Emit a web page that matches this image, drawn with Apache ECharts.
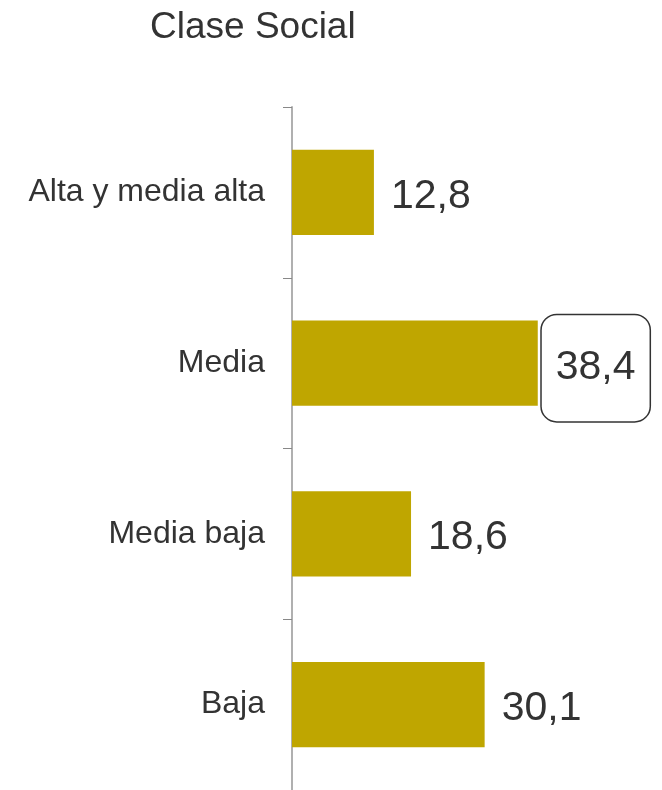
<!DOCTYPE html>
<html>
<head>
<meta charset="utf-8">
<script src="https://cdn.jsdelivr.net/npm/echarts@6/dist/echarts.min.js"></script>
<style>
  html, body { margin: 0; padding: 0; background: #fff; }
  #chart { width: 662px; height: 790px; }
</style>
</head>
<body>
<div id="chart"></div>
<script>
const categories = ["Alta y media alta", "Media", "Media baja", "Baja"];
const values = [12.8, 38.4, 18.6, 30.1];
const highlighted = "Media";

const chart = echarts.init(document.getElementById("chart"));

const labelFont = "Liberation Sans, Arial, sans-serif";

const option = {
  animation: false,
  title: {
    text: "Clase Social",
    left: 145,
    top: 4,
    textStyle: {
      fontFamily: labelFont,
      fontSize: 37,
      fontWeight: "normal",
      color: "#333333"
    }
  },
  grid: {
    left: 292,
    right: 50,
    top: 107,
    bottom: 0
  },
  xAxis: {
    type: "value",
    min: 0,
    max: 50,
    show: false
  },
  yAxis: {
    type: "category",
    inverse: true,
    data: categories,
    axisLine: { lineStyle: { color: "#b0b0b0", width: 2 } },
    axisTick: { show: true, length: 9, lineStyle: { color: "#888888", width: 1 } },
    axisLabel: {
      margin: 27,
      padding: [6, 0, 0, 0],
      fontFamily: labelFont,
      fontSize: 32,
      color: "#333333"
    }
  },
  series: [
    {
      type: "bar",
      barWidth: "50%",
      data: values.map(function (v, i) {
        const item = { value: v };
        if (categories[i] === highlighted) {
          item.label = {
            distance: 4,
            padding: [28, 14, 28, 14],
            lineHeight: 50,
            borderColor: "#333333",
            borderWidth: 1.5,
            borderRadius: 15,
            backgroundColor: "#ffffff",
            offset: [0, 5]
          };
        }
        return item;
      }),
      itemStyle: { color: "#bfa600" },
      label: {
        show: true,
        position: "right",
        distance: 17,
        offset: [0, 4],
        fontFamily: labelFont,
        fontSize: 41,
        color: "#333333",
        formatter: function (p) {
          return p.value.toFixed(1).replace(".", ",");
        }
      }
    }
  ]
};

chart.setOption(option);
</script>
</body>
</html>
